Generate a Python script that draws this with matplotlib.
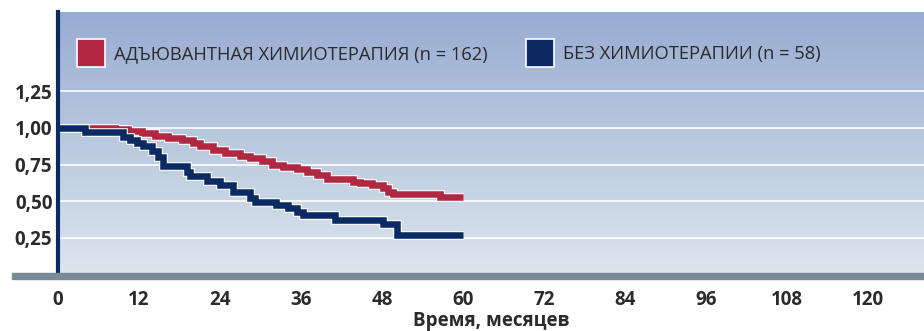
import numpy as np
import matplotlib
matplotlib.use("Agg")
import matplotlib.pyplot as plt
import matplotlib.patheffects as pe
from matplotlib.colors import LinearSegmentedColormap
from matplotlib.lines import Line2D
from matplotlib.patches import Rectangle

# Kaplan-Meier curves (months, survival fraction)
chemo_t = [0, 5.5, 8.4, 10.4, 12.4, 14.4, 16.3, 18.4, 20.0, 21.0, 23.0, 24.7, 27.0, 28.4, 30.2,
           31.7, 33.3, 35.4, 36.9, 38.4, 39.9, 43.7, 44.7, 46.5, 48.1, 48.9, 49.6, 56.6, 60]
chemo_s = [1.0, 0.996, 0.990, 0.979, 0.965, 0.948, 0.934, 0.914, 0.900, 0.876, 0.852, 0.829, 0.811, 0.792, 0.774,
           0.750, 0.735, 0.717, 0.701, 0.678, 0.651, 0.633, 0.622, 0.610, 0.592, 0.564, 0.547, 0.525, 0.525]

nochemo_t = [0, 4.0, 9.6, 10.7, 11.7, 12.6, 13.9, 14.8, 15.6, 19.1, 19.6, 22.1, 24.0, 25.9,
             28.4, 29.2, 32.3, 34.1, 35.4, 36.3, 41.0, 48.1, 50.2, 60]
nochemo_s = [1.0, 0.969, 0.940, 0.917, 0.899, 0.876, 0.844, 0.803, 0.743, 0.701, 0.671, 0.634, 0.610, 0.560,
             0.519, 0.496, 0.473, 0.451, 0.428, 0.408, 0.374, 0.344, 0.268, 0.268]

labels = ["АДЪЮВАНТНАЯ ХИМИОТЕРАПИЯ (n = 162)", "БЕЗ ХИМИОТЕРАПИИ (n = 58)"]
colors = ["#b02841", "#0b2a63"]

y_ticks = [0.25, 0.50, 0.75, 1.00, 1.25]
y_ticklabels = ["0,25", "0,50", "0,75", "1,00", "1,25"]
x_ticks = [0, 12, 24, 36, 48, 60, 72, 84, 96, 108, 120]

plt.rcParams['font.family'] = ['Open Sans', 'DejaVu Sans']

W, H = 924, 331
fig = plt.figure(figsize=(W / 100, H / 100), dpi=100)
ax = fig.add_axes([58 / W, (H - 274.3) / H, 1 - 58 / W, (274.3 - 12) / H])

# gradient background
cmap = LinearSegmentedColormap.from_list("bg", ["#dde6ee", "#b9c9de", "#98acd3"])
grad = np.linspace(0, 1, 256)[:, None]
ax.imshow(grad, extent=[0, 1, 0, 1], transform=ax.transAxes, cmap=cmap,
          aspect='auto', origin='lower', zorder=0)

for t, s, c in [(chemo_t, chemo_s, colors[0]), (nochemo_t, nochemo_s, colors[1])]:
    ax.plot(t, s, drawstyle='steps-post', color=c, lw=4.7, zorder=3,
            solid_joinstyle='miter', solid_capstyle='butt',
            path_effects=[pe.Stroke(linewidth=6.2, foreground='white'), pe.Normal()])

ax.set_xlim(0, (W - 58) / 6.75)
ax.set_ylim(0, (274.3 - 12) / 146.4)

ax.set_yticks(y_ticks)
ax.set_yticklabels(y_ticklabels)
ax.set_xticks(x_ticks)
ax.tick_params(length=0, labelsize=13.5, labelcolor="#2b2b2b")
ax.tick_params(axis='y', pad=4)
ax.tick_params(axis='x', pad=11)
for lab in ax.get_xticklabels() + ax.get_yticklabels():
    lab.set_fontweight('bold')

ax.grid(axis='y', color='white', lw=1.2)
ax.set_axisbelow(True)
for sp in ['top', 'right', 'bottom']:
    ax.spines[sp].set_visible(False)
ax.spines['left'].set_color("#0b2a63")
ax.spines['left'].set_linewidth(3)
ax.spines['left'].set_zorder(4)

ax.set_xlabel("Время, месяцев", fontsize=13.5, fontweight='bold', color="#2b2b2b", labelpad=1)

# grey base bar
fig.add_artist(Rectangle((12 / W, (H - 278.5) / H), (W - 12) / W, 5.5 / H,
                         transform=fig.transFigure, color="#778a95", zorder=5))

handles = [Line2D([], [], marker='s', linestyle='none', markersize=19.5,
                  markerfacecolor=c, markeredgecolor='white', markeredgewidth=1.2)
           for c in colors]
leg = ax.legend(handles, labels, ncol=2, loc='upper left', bbox_to_anchor=(-0.0105, 0.965),
                frameon=False, fontsize=13.2, handletextpad=0.25, columnspacing=1.85,
                borderaxespad=0.9)
for txt in leg.get_texts():
    txt.set_color("#2b2b2b")

fig.savefig("out.png", dpi=100)
